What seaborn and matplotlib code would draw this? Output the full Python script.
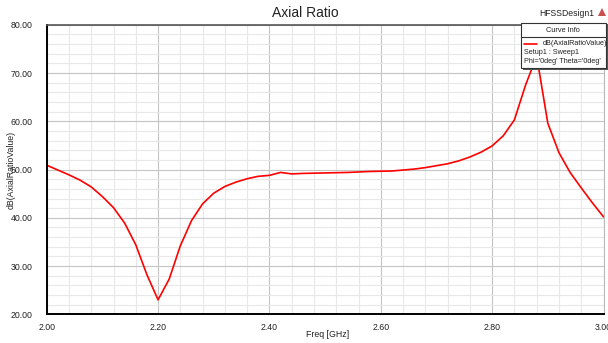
import numpy as np
import pandas as pd
import matplotlib
matplotlib.use("Agg")
import matplotlib.pyplot as plt
from matplotlib.patches import Rectangle
from matplotlib.lines import Line2D
from matplotlib.ticker import MultipleLocator, FormatStrFormatter
import seaborn as sns

freq = [2.00, 2.02, 2.04, 2.06, 2.08, 2.10, 2.12, 2.14, 2.16, 2.18, 2.20,
        2.22, 2.24, 2.26, 2.28, 2.30, 2.32, 2.34, 2.36, 2.38, 2.40,
        2.42, 2.44, 2.46, 2.48, 2.50, 2.52, 2.54, 2.56, 2.58, 2.60,
        2.62, 2.64, 2.66, 2.68, 2.70, 2.72, 2.74, 2.76, 2.78, 2.80,
        2.82, 2.84, 2.86, 2.88, 2.90, 2.92, 2.94, 2.96, 2.98, 3.00]
ar_db = [50.9, 49.9, 48.9, 47.8, 46.4, 44.4, 42.1, 38.9, 34.4, 28.2, 23.0,
         27.3, 34.2, 39.4, 42.9, 45.1, 46.5, 47.4, 48.1, 48.6, 48.8,
         49.4, 49.1, 49.2, 49.25, 49.3, 49.35, 49.4, 49.5, 49.6, 49.65,
         49.7, 49.9, 50.1, 50.4, 50.8, 51.2, 51.8, 52.6, 53.6, 54.9,
         57.0, 60.3, 67.5, 73.5, 59.6, 53.5, 49.4, 46.2, 43.1, 40.2]

title = "Axial Ratio"
design = "HFSSDesign1"
xlabel = "Freq [GHz]"
ylabel = "dB(AxialRatioValue)"
legend_header = "Curve Info"
legend_lines = ["dB(AxialRatioValue)", "Setup1 : Sweep1", "Phi='0deg' Theta='0deg'"]

df = pd.DataFrame({"freq": freq, "ar": ar_db})

sns.set_style("white")
plt.rcParams['font.family'] = ['Liberation Sans', 'DejaVu Sans']

W, H = 608, 343
fig = plt.figure(figsize=(W / 100, H / 100), dpi=100)
ax = fig.add_axes([46.7 / W, 1 - 314.3 / H, (603.5 - 46.7) / W, (314.3 - 24.8) / H])

sns.lineplot(data=df, x="freq", y="ar", ax=ax, color="#ff0000", linewidth=1.2)

ax.set_xlim(2.0, 3.0)
ax.set_ylim(20, 80)
ax.xaxis.set_major_locator(MultipleLocator(0.2))
ax.xaxis.set_minor_locator(MultipleLocator(0.04))
ax.yaxis.set_major_locator(MultipleLocator(10))
ax.yaxis.set_minor_locator(MultipleLocator(2))
ax.xaxis.set_major_formatter(FormatStrFormatter("%.2f"))
ax.yaxis.set_major_formatter(FormatStrFormatter("%.2f"))

ax.grid(which="major", color="#c4c4c4", linewidth=0.8)
ax.grid(which="minor", color="#e8e8e8", linewidth=0.8)
ax.set_axisbelow(True)

ax.tick_params(axis="both", which="major", labelsize=6.3, colors="#222222",
               length=4, width=0.8, direction="out", pad=2)
ax.tick_params(axis="y", which="major", length=9, pad=1)
ax.tick_params(axis="both", which="minor", length=3, width=0.8, direction="out")

for side in ["left", "bottom"]:
    ax.spines[side].set_color("black")
    ax.spines[side].set_linewidth(1.4)
ax.spines["top"].set_color("#555555")
ax.spines["top"].set_linewidth(1.2)
ax.spines["right"].set_color("#bbbbbb")
ax.spines["right"].set_linewidth(0.8)

ax.set_xlabel(xlabel, fontsize=6.3, color="#222222")
ax.xaxis.set_label_coords((328 - 46.7) / (603.5 - 46.7), -0.055)
ax.set_ylabel(ylabel, fontsize=6.3, color="#222222", labelpad=2)
ax.yaxis.set_label_coords(-0.056, 0.5)

fig.text(305 / W, 1 - 13 / H, title, ha="center", va="center", fontsize=10, color="#222222")
fig.text(539 / W, 1 - 13 / H, design, ha="left", va="center", fontsize=6.2, color="#222222")

# small logo-like triangle
fig.patches.append(plt.Polygon([[598 / W, 1 - 16 / H], [602 / W, 1 - 8 / H], [606 / W, 1 - 16 / H]],
                               closed=True, transform=fig.transFigure, facecolor="#c85050",
                               edgecolor="none"))

# legend box
x0, x1, y0, y1 = 521, 606, 22.7, 68.3
fig.patches.append(Rectangle((x0 / W + 1.5 / W, 1 - (y1 + 1.5) / H), (x1 - x0) / W, (y1 - y0) / H,
                             transform=fig.transFigure, facecolor="#555555", edgecolor="none", zorder=10))
fig.patches.append(Rectangle((x0 / W, 1 - y1 / H), (x1 - x0) / W, (y1 - y0) / H,
                             transform=fig.transFigure, facecolor="white", edgecolor="#333333",
                             linewidth=0.8, zorder=11))
fig.lines.append(Line2D([x0 / W, x1 / W], [1 - 36.7 / H, 1 - 36.7 / H], transform=fig.transFigure,
                        color="#333333", linewidth=0.8, zorder=12))
fig.text(563 / W, 1 - 30 / H, legend_header, ha="center", va="center", fontsize=5.3,
         color="#222222", zorder=13)
fig.lines.append(Line2D([524 / W, 537 / W], [1 - 43.5 / H, 1 - 43.5 / H], transform=fig.transFigure,
                        color="#ff0000", linewidth=1.2, zorder=12))
fig.text(542.5 / W, 1 - 43.5 / H, legend_lines[0], ha="left", va="center", fontsize=5.2,
         color="#222222", zorder=13)
fig.text(523.5 / W, 1 - 52.5 / H, legend_lines[1], ha="left", va="center", fontsize=5.2,
         color="#222222", zorder=13)
fig.text(523.5 / W, 1 - 61.5 / H, legend_lines[2], ha="left", va="center", fontsize=5.2,
         color="#222222", zorder=13)

fig.savefig("out.png", dpi=100, facecolor="white")
